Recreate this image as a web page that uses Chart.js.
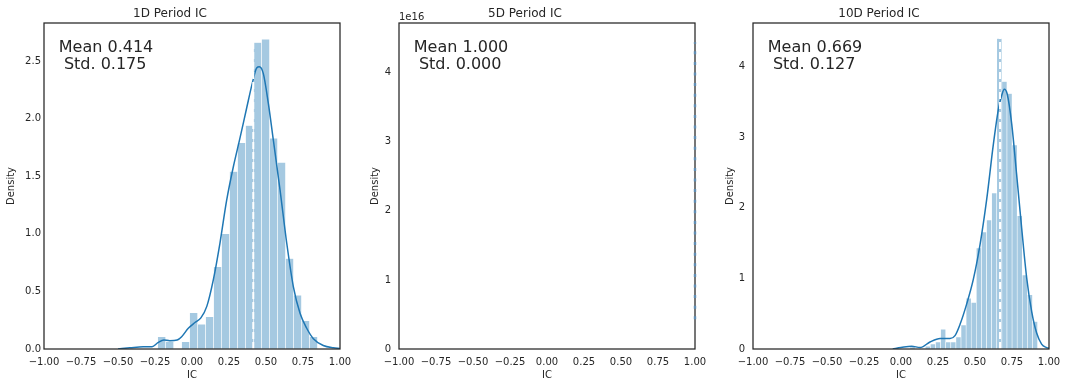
<!DOCTYPE html>
<html>
<head>
<meta charset="utf-8">
<script src="https://cdn.jsdelivr.net/npm/chart.js@4"></script>
<style>
  body { margin: 0; background: #fff; }
  #wrap { position: relative; width: 1066px; height: 387px; }
  canvas { position: absolute; top: 0; }
</style>
</head>
<body>
<div id="wrap">
  <canvas id="ic1" width="355" height="387" style="left:0px"></canvas>
  <canvas id="ic5" width="355" height="387" style="left:355px"></canvas>
  <canvas id="ic10" width="355" height="387" style="left:709px"></canvas>
</div>
<script>
// --- data ---
const periods = ['1D', '5D', '10D'];
const icMean = [0.414, 1.000, 0.669];
const icStd = [0.175, 0.000, 0.127];
const xTicks = [-1, -0.75, -0.5, -0.25, 0, 0.25, 0.5, 0.75, 1];
const yTicks = [
    [0, 0.5, 1.0, 1.5, 2.0, 2.5],
    [0, 1, 2, 3, 4],          // x 1e16
    [0, 1, 2, 3, 4]
];
const yMax = [2.83, 4.72, 4.62];
const yOffsetText = ['', '1e16', ''];

// 1D: histogram bins + kde
const hist1Start = -0.232;
const hist1Width = 0.054;
const hist1Density = [0.107, 0.065, 0, 0.064, 0.315, 0.214, 0.28, 0.715, 1.00, 1.54,
                      1.79, 1.94, 2.66, 2.69, 1.83, 1.62, 0.785, 0.466, 0.245, 0.107];
const kde1X = [-0.50, -0.42, -0.33, -0.27, -0.23, -0.19, -0.15, -0.10, -0.07, -0.025, 0.02, 0.06,
               0.10, 0.144, 0.189, 0.234, 0.279, 0.324, 0.369, 0.408, 0.437, 0.455, 0.482, 0.516,
               0.550, 0.595, 0.640, 0.685, 0.730, 0.775, 0.820, 0.887, 0.955, 1.00];
const kde1Y = [0.00, 0.01, 0.02, 0.02, 0.055, 0.078, 0.072, 0.078, 0.107, 0.18, 0.23, 0.27,
               0.37, 0.60, 0.92, 1.29, 1.58, 1.83, 2.09, 2.31, 2.44, 2.45, 2.39, 2.13,
               1.81, 1.38, 0.92, 0.54, 0.31, 0.18, 0.09, 0.03, 0.01, 0.005];

// 5D: every IC equals 1.0, only a spike at the right edge (density in units of 1e16)
const spike5X = [1.0, 1.0];
const spike5Y = [0.43, 4.44];

// 10D: histogram bins + kde
const hist10Start = 0.0605;
const hist10Width = 0.0345;
const hist10Density = [0.03, 0, 0, 0.04, 0.07, 0.10, 0.28, 0.10, 0.10, 0.17, 0.34, 0.72, 0.66,
                       1.43, 1.66, 1.83, 2.21, 4.40, 3.79, 3.62, 2.89, 1.89, 1.05, 0.77, 0.39];
const kde10X = [-0.056, 0.0, 0.072, 0.129, 0.196, 0.264, 0.331, 0.365, 0.399, 0.444, 0.489, 0.534,
                0.579, 0.624, 0.660, 0.680, 0.698, 0.718, 0.748, 0.781, 0.815, 0.849, 0.883,
                0.916, 0.950, 0.984, 1.0];
const kde10Y = [0.0, 0.02, 0.04, 0.02, 0.10, 0.15, 0.15, 0.19, 0.35, 0.64, 0.99, 1.48,
                2.12, 2.90, 3.42, 3.59, 3.68, 3.61, 3.19, 2.48, 1.72, 1.01, 0.53,
                0.23, 0.07, 0.02, 0.01];

// --- style ---
const textColor = '#262626';
const blue = '#1f77b4';
Chart.defaults.font.family = '"DejaVu Sans", sans-serif';
Chart.defaults.color = textColor;

// per panel tweaks (y label / tick spacing)
const yTitlePad = [5.5, 14.3, 15];
const yTickPad = [3, 8, 8];

function histPoints(start, width, dens) {
    return dens.map((d, k) => ({ x: start + width * (k + 0.5), y: d })).filter(p => p.y > 0);
}
function zipXY(xs, ys) {
    return xs.map((x, k) => ({ x: x, y: ys[k] }));
}
function fmtX(v) {
    return v.toFixed(2).replace('-', '\u2212');
}

function drawFrame(chart) {
    const a = chart.chartArea, ctx = chart.ctx;
    ctx.save();
    ctx.strokeStyle = textColor;
    ctx.lineWidth = 1.25;
    ctx.strokeRect(a.left, a.top, a.right - a.left, a.bottom - a.top);
    ctx.restore();
}

// frame + Mean/Std box + offset text
const panelDecor = {
    id: 'panelDecor',
    beforeDatasetsDraw(chart, args, opts) {
        if (!opts.frameOver) drawFrame(chart);
    },
    afterDatasetsDraw(chart, args, opts) {
        if (opts.frameOver) drawFrame(chart);
    },
    afterDraw(chart, args, opts) {
        const a = chart.chartArea, ctx = chart.ctx;
        const i = opts.index;
        const x = a.left + 0.05 * (a.right - a.left);
        const y = a.top + 0.05 * (a.bottom - a.top);
        ctx.save();
        ctx.fillStyle = textColor;
        ctx.textAlign = 'left';
        ctx.textBaseline = 'alphabetic';
        ctx.font = '16px "DejaVu Sans"';
        ctx.fillText('Mean ' + icMean[i].toFixed(3) + ' ', x, y + 12.7);
        ctx.fillText(' Std. ' + icStd[i].toFixed(3), x, y + 29.9);
        if (yOffsetText[i]) {
            ctx.font = '10px "DejaVu Sans"';
            ctx.fillText(yOffsetText[i], a.left, a.top - 3.5);
        }
        ctx.restore();
    }
};

function makePanel(canvasId, i, datasets, frameOver) {
    new Chart(document.getElementById(canvasId), {
        type: 'bar',
        data: { datasets: datasets },
        plugins: [panelDecor],
        options: {
            responsive: false,
            animation: false,
            events: [],
            layout: { padding: { left: 0, right: 15, top: 0, bottom: 0 } },
            plugins: {
                legend: { display: false },
                tooltip: { enabled: false },
                title: {
                    display: true,
                    text: periods[i] + ' Period IC',
                    color: textColor,
                    font: { size: 12, weight: 'normal' },
                    padding: { top: 6.2, bottom: 2.4 }
                },
                panelDecor: { index: i, frameOver: frameOver }
            },
            scales: {
                x: {
                    type: 'linear',
                    min: xTicks[0],
                    max: xTicks[xTicks.length - 1],
                    offset: false,
                    grid: { display: false, drawTicks: false },
                    border: { display: false },
                    afterBuildTicks: s => { s.ticks = xTicks.map(v => ({ value: v })); },
                    ticks: {
                        autoSkip: false, maxRotation: 0, padding: 7.5,
                        color: textColor, font: { size: 10 },
                        callback: v => fmtX(v)
                    },
                    title: {
                        display: true, text: 'IC', color: textColor,
                        font: { size: 10 }, padding: { top: 0, bottom: 6 }
                    },
                    afterFit: s => { s.height = 38; s.paddingLeft = 0; s.paddingRight = 0; }
                },
                y: {
                    type: 'linear',
                    min: 0,
                    max: yMax[i],
                    grid: { display: false, drawTicks: false },
                    border: { display: false },
                    afterBuildTicks: s => { s.ticks = yTicks[i].map(v => ({ value: v })); },
                    ticks: {
                        autoSkip: false, padding: yTickPad[i],
                        color: textColor, font: { size: 10 },
                        callback: v => (i === 0 ? v.toFixed(1) : String(v))
                    },
                    title: {
                        display: true, text: 'Density', color: textColor,
                        font: { size: 10 }, padding: { top: yTitlePad[i], bottom: 0 }
                    },
                    afterFit: s => { s.width = 44; s.paddingTop = 0; s.paddingBottom = 0; }
                }
            }
        }
    });
}

function histDataset(start, width, dens) {
    return {
        type: 'bar',
        data: histPoints(start, width, dens),
        backgroundColor: 'rgba(31,119,180,0.4)',
        borderColor: 'rgba(255,255,255,0.7)',
        borderWidth: 0.6,
        borderSkipped: false,
        barPercentage: 1,
        categoryPercentage: 1,
        order: 2
    };
}
function kdeDataset(xs, ys) {
    return {
        type: 'line',
        data: zipXY(xs, ys),
        borderColor: blue,
        borderWidth: 1.5,
        pointRadius: 0,
        cubicInterpolationMode: 'monotone',
        fill: false,
        order: 1
    };
}
function meanDataset(i) {
    return {
        type: 'line',
        data: [{ x: icMean[i], y: 0 }, { x: icMean[i], y: yMax[i] }],
        borderColor: '#ffffff',
        borderWidth: 2,
        borderDash: [7, 3],
        pointRadius: 0,
        fill: false,
        order: 0
    };
}

makePanel('ic1', 0, [
    histDataset(hist1Start, hist1Width, hist1Density),
    kdeDataset(kde1X, kde1Y),
    meanDataset(0)
], true);

makePanel('ic5', 1, [{
    type: 'line',
    data: zipXY(spike5X, spike5Y),
    borderColor: '#5f8db3',
    borderWidth: 2.4,
    borderDash: [3, 7.6],
    pointRadius: 0,
    fill: false,
    clip: 4,
    order: 1
}], false);

makePanel('ic10', 2, [
    histDataset(hist10Start, hist10Width, hist10Density),
    kdeDataset(kde10X, kde10Y),
    meanDataset(2)
], true);
</script>
</body>
</html>
